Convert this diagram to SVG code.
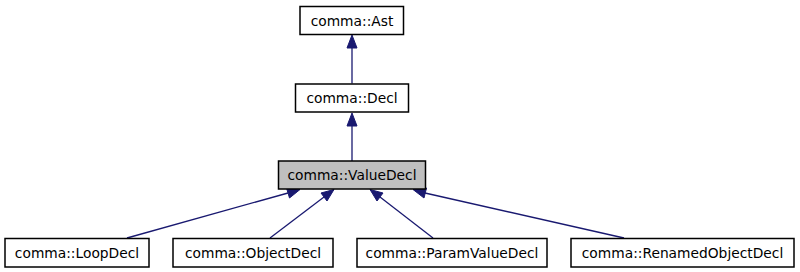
<svg xmlns="http://www.w3.org/2000/svg" width="800" height="272" viewBox="0 0 800 272">
<style>
.box{fill:#ffffff;stroke:#000000;stroke-width:1.5}
.cur{fill:#bfbfbf;stroke:#000000;stroke-width:1.5}
text{font-family:"DejaVu Sans",sans-serif;font-size:13.8px;fill:#000000;text-anchor:middle}
.edge{stroke:#191970;stroke-width:1.3;fill:none}
.head{fill:#191970;stroke:#191970;stroke-width:1}
</style>
<rect width="800" height="272" fill="#ffffff"/>
<g id="connectors">
<line class="edge" x1="352" y1="83.5" x2="352" y2="48"/>
<polygon class="head" points="352,35 357,48 347,48"/>
<line class="edge" x1="352" y1="161" x2="352" y2="126"/>
<polygon class="head" points="352,113 357,126 347,126"/>
<line class="edge" x1="127" y1="238" x2="288" y2="193"/>
<polygon class="head" points="300,189.5 289.5,198 286.5,188"/>
<line class="edge" x1="270" y1="238" x2="324" y2="197"/>
<polygon class="head" points="334,189.5 327,201 321,193"/>
<line class="edge" x1="433" y1="238" x2="380" y2="197"/>
<polygon class="head" points="370,189.5 383,193 377,201"/>
<line class="edge" x1="624" y1="238" x2="425" y2="193"/>
<polygon class="head" points="413,189.5 426.5,188 424,198"/>
</g>
<g id="node-ast">
<rect class="box" x="300" y="6.5" width="103.5" height="28"/>
<text x="352" y="25.5">comma::Ast</text>
</g>
<g id="node-decl">
<rect class="box" x="295.5" y="84" width="113" height="28"/>
<text x="352" y="103">comma::Decl</text>
</g>
<g id="node-valuedecl">
<rect class="cur" x="278.5" y="161" width="147" height="28"/>
<text x="352" y="180">comma::ValueDecl</text>
</g>
<g id="node-loopdecl">
<rect class="box" x="5" y="238.5" width="144" height="28.5"/>
<text x="77" y="258">comma::LoopDecl</text>
</g>
<g id="node-objectdecl">
<rect class="box" x="173" y="238.5" width="160" height="28.5"/>
<text x="253" y="258">comma::ObjectDecl</text>
</g>
<g id="node-paramvaluedecl">
<rect class="box" x="357" y="238.5" width="190" height="28.5"/>
<text x="452" y="258">comma::ParamValueDecl</text>
</g>
<g id="node-renamedobjectdecl">
<rect class="box" x="571" y="238.5" width="223" height="28.5"/>
<text x="682.5" y="258">comma::RenamedObjectDecl</text>
</g>
</svg>
